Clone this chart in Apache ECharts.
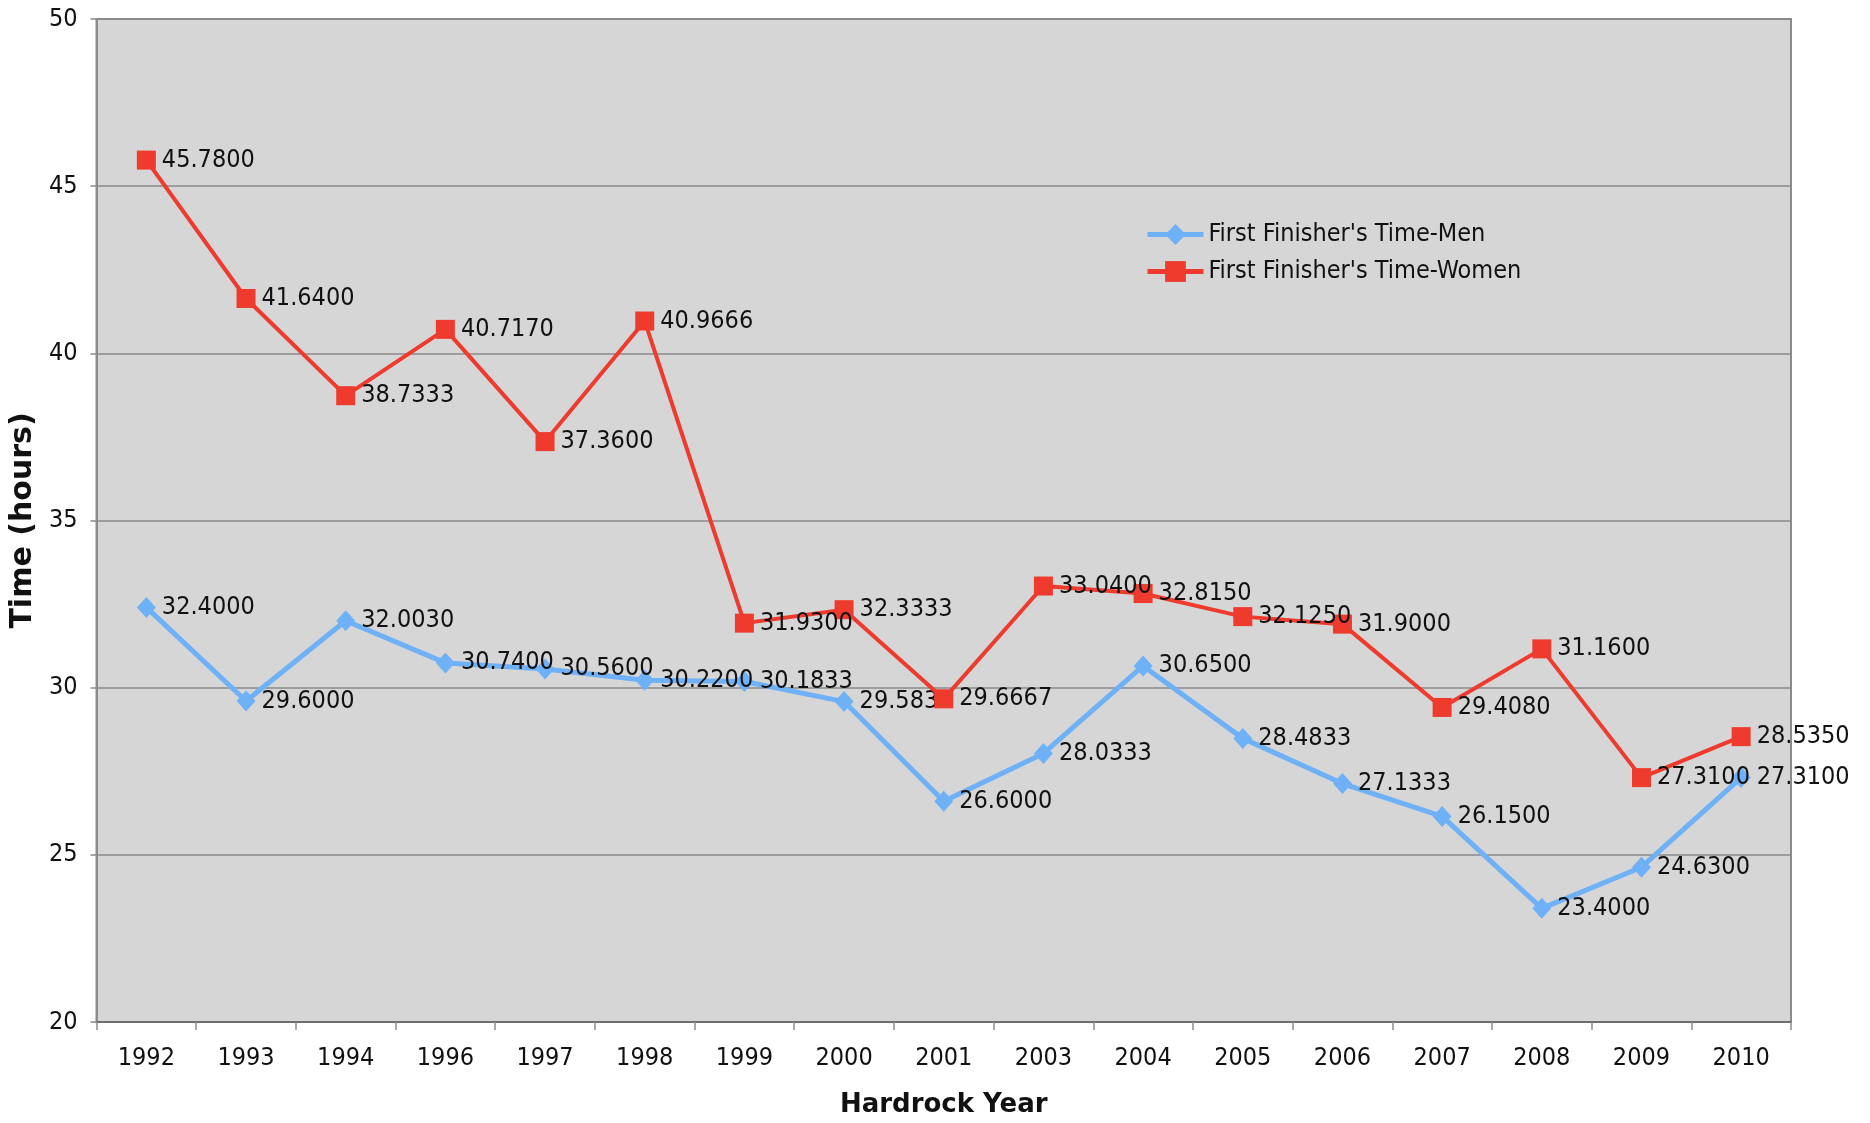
<!DOCTYPE html>
<html>
<head>
<meta charset="utf-8">
<script src="https://cdn.jsdelivr.net/npm/echarts@6/dist/echarts.min.js"></script>
<style>
html,body{margin:0;padding:0;background:#ffffff;}
#chart{width:1870px;height:1123px;}
</style>
</head>
<body>
<div id="chart"></div>
<script>
const years = ['1992','1993','1994','1996','1997','1998','1999','2000','2001','2003','2004','2005','2006','2007','2008','2009','2010'];
const menTimes = [32.4, 29.6, 32.003, 30.74, 30.56, 30.22, 30.1833, 29.5833, 26.6, 28.0333, 30.65, 28.4833, 27.1333, 26.15, 23.4, 24.63, 27.31];
const womenTimes = [45.78, 41.64, 38.7333, 40.717, 37.36, 40.9666, 31.93, 32.3333, 29.6667, 33.04, 32.815, 32.125, 31.9, 29.408, 31.16, 27.31, 28.535];
const menName = "First Finisher's Time-Men";
const womenName = "First Finisher's Time-Women";
const yMin = 20, yMax = 50, yStep = 5;

const FONT = '"DejaVu Sans Condensed", "DejaVu Sans", sans-serif';
const chart = echarts.init(document.getElementById('chart'), null, {renderer: 'canvas'});

const labelCfg = {
  show: true,
  position: 'right',
  distance: 6,
  color: '#111',
  fontFamily: FONT,
  fontSize: 25,
  formatter: p => Number(p.value).toFixed(4)
};

chart.setOption({
  animation: false,
  backgroundColor: '#ffffff',
  grid: {
    left: 92, right: 79, top: 19, bottom: 101,
    show: true,
    backgroundColor: '#d6d6d6',
    borderColor: '#8c8c8c',
    borderWidth: 2
  },
  legend: {
    left: 1140, top: 217,
    orient: 'vertical',
    itemWidth: 56, itemHeight: 26, itemGap: 12,
    lineStyle: {width: 5},
    textStyle: {fontFamily: FONT, fontSize: 25, color: '#111'},
    data: [menName, womenName]
  },
  xAxis: {
    type: 'category',
    data: years,
    boundaryGap: true,
    name: 'Hardrock Year',
    nameLocation: 'middle',
    nameGap: 70,
    nameTextStyle: {fontFamily: '"DejaVu Sans", sans-serif', fontWeight: 'bold', fontSize: 26, color: '#111'},
    axisLine: {show: true, lineStyle: {color: '#6e6e6e', width: 2}},
    axisTick: {show: true, length: 8, lineStyle: {color: '#8c8c8c', width: 1.5}},
    axisLabel: {margin: 24, fontFamily: FONT, fontSize: 25, color: '#111'},
    splitLine: {show: false}
  },
  yAxis: {
    type: 'value',
    min: yMin, max: yMax, interval: yStep,
    name: 'Time (hours)',
    nameLocation: 'middle',
    nameGap: 47,
    nameRotate: 90,
    nameTextStyle: {fontFamily: '"DejaVu Sans", sans-serif', fontWeight: 'bold', fontSize: 30, color: '#111'},
    axisLine: {show: true, lineStyle: {color: '#8c8c8c', width: 2}},
    axisTick: {show: true, length: 6, lineStyle: {color: '#8c8c8c', width: 1.5}},
    axisLabel: {margin: 19, fontFamily: FONT, fontSize: 25, color: '#111'},
    splitLine: {show: true, lineStyle: {color: '#8a8a8a', width: 1.5}}
  },
  series: [
    {
      name: menName,
      type: 'line',
      data: menTimes,
      symbol: 'diamond',
      symbolSize: [19, 21],
      lineStyle: {color: '#6eb1f7', width: 5},
      itemStyle: {color: '#6eb1f7'},
      label: labelCfg,
      z: 2
    },
    {
      name: womenName,
      type: 'line',
      data: womenTimes,
      symbol: 'rect',
      symbolSize: 19,
      lineStyle: {color: '#ee3b2e', width: 4},
      itemStyle: {color: '#ee3b2e'},
      label: labelCfg,
      z: 3
    }
  ]
});
</script>
</body>
</html>
